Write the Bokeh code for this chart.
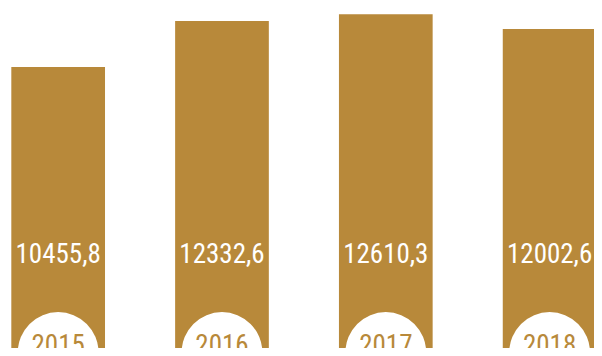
from bokeh.plotting import figure
from bokeh.models import ColumnDataSource, Range1d
from bokeh.core.properties import value
from bokeh.embed import file_html
from bokeh.resources import INLINE

years = ["2015", "2016", "2017", "2018"]
values = [10455.8, 12332.6, 12610.3, 12002.6]
labels = ["10455,8", "12332,6", "12610,3", "12002,6"]

GOLD = "#B8893A"
FONT = "'Roboto Condensed', 'Liberation Sans Narrow', 'DejaVu Sans Condensed', 'Open Sans', sans-serif"

xs = list(range(len(years)))
src = ColumnDataSource(dict(x=xs, top=values, year=years, label=labels))

p = figure(width=594, height=348, output_backend="svg", toolbar_location=None,
           x_range=Range1d(-0.352, 3.274), y_range=Range1d(-1037, 13170),
           min_border=0, outline_line_color=None)
p.axis.visible = False
p.grid.visible = False
p.background_fill_color = "white"
p.border_fill_color = "white"

p.vbar(x="x", top="top", bottom=-3000, width=0.572, source=src,
       fill_color=GOLD, line_color=None)

p.text(x="x", y=0, text="label", source=src, text_color="white",
       text_font=value(FONT), text_font_size="27px", text_align="center",
       text_baseline="alphabetic", y_offset=-70)

p.circle(x="x", y=-1200, radius=40.4, radius_units="screen", source=src,
         fill_color="white", line_color=None)

p.text(x="x", y=0, text="year", source=src, text_color=GOLD,
       text_font=value(FONT), text_font_size="27px", text_align="center",
       text_baseline="alphabetic", y_offset=21)

open("out.html", "w").write(file_html(p, INLINE))
